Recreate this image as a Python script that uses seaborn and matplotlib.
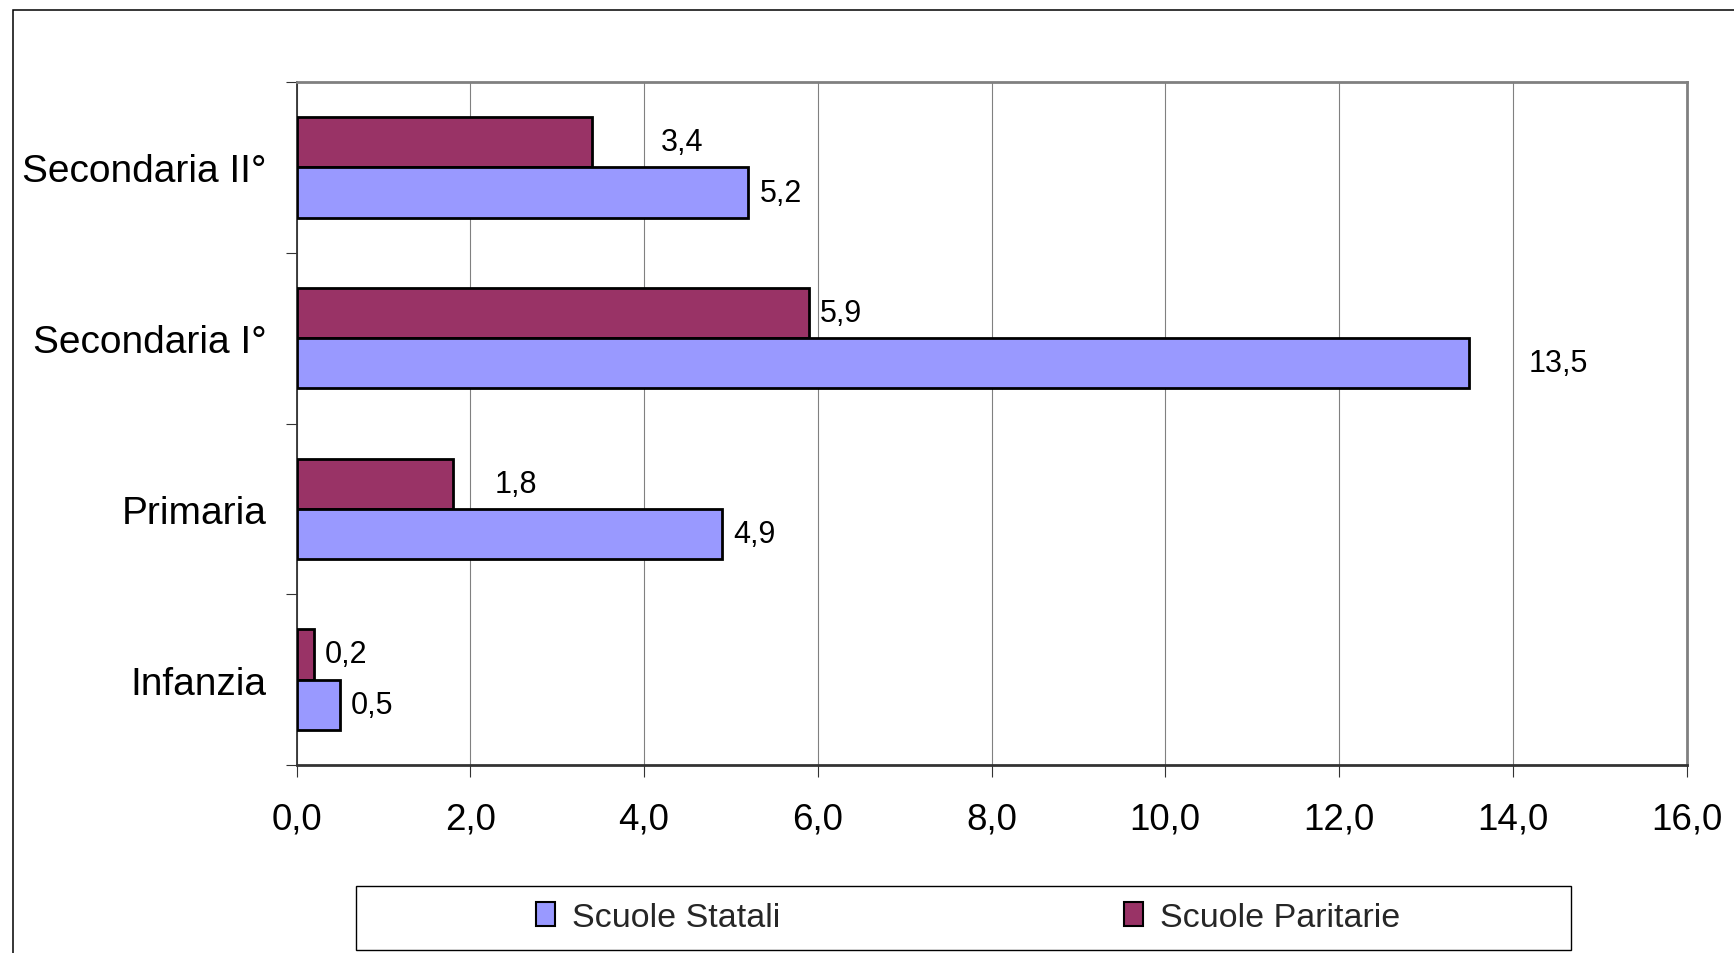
import matplotlib
matplotlib.use("Agg")
import matplotlib.pyplot as plt
import matplotlib.patches as mpatches
from matplotlib.ticker import FuncFormatter, FixedLocator
import seaborn as sns
import pandas as pd
import numpy as np

# ---- data ----
categories = ["Secondaria II°", "Secondaria I°", "Primaria", "Infanzia"]
series = ["Scuole Statali", "Scuole Paritarie"]
statali = [5.2, 13.5, 4.9, 0.5]
paritarie = [3.4, 5.9, 1.8, 0.2]
x_ticks = [0, 2, 4, 6, 8, 10, 12, 14, 16]

# label offsets (points) from bar end, per category
label_offsets = {"Scuole Paritarie": [50, 8, 30, 8],
                 "Scuole Statali": [8, 43, 8, 8]}

colors = {"Scuole Statali": "#9999FF", "Scuole Paritarie": "#993366"}

df = pd.DataFrame({
    "categoria": categories * 2,
    "serie": ["Scuole Statali"] * 4 + ["Scuole Paritarie"] * 4,
    "valore": statali + paritarie,
})

sns.set_style("white")
plt.rcParams["font.family"] = ["Liberation Sans", "DejaVu Sans"]

fig = plt.figure(figsize=(17.34, 9.54), dpi=100)
ax = fig.add_axes([296.5 / 1734, 1 - 766 / 954, (1686.5 - 296.5) / 1734, (766 - 83) / 954])

hue_order = ["Scuole Paritarie", "Scuole Statali"]
sns.barplot(data=df, y="categoria", x="valore", hue="serie", hue_order=hue_order,
            order=categories, palette=colors, orient="h", width=0.59,
            saturation=1, edgecolor="black", linewidth=2, legend=False, ax=ax,
            zorder=3)

ax.set_xlim(0, 16)
ax.set_ylim(len(categories) - 0.5, -0.5)
ax.xaxis.set_major_locator(FixedLocator(x_ticks))
ax.xaxis.set_major_formatter(FuncFormatter(lambda v, p: f"{v:.1f}".replace(".", ",")))
ax.set_xlabel("")
ax.set_ylabel("")

# grid
ax.grid(axis="x", color="#808080", linewidth=0.8, zorder=0)
ax.grid(axis="y", visible=False)
ax.set_axisbelow(True)

# spines
for s in ["top", "right"]:
    ax.spines[s].set_color("#808080")
    ax.spines[s].set_linewidth(2)
ax.spines["left"].set_color("#333333")
ax.spines["left"].set_linewidth(1.3)
ax.spines["bottom"].set_color("#333333")
ax.spines["bottom"].set_linewidth(2)

# ticks
ax.tick_params(axis="x", which="major", direction="out", length=8.6, width=0.8,
               color="#333333", pad=18, labelsize=26.5, labelcolor="black", bottom=True)
ax.tick_params(axis="y", which="major", length=0, pad=21.5, labelsize=28, labelcolor="black")
ax.yaxis.set_minor_locator(FixedLocator(np.arange(-0.5, len(categories), 1.0)))
ax.tick_params(axis="y", which="minor", direction="out", length=7.9, width=0.8,
               color="#333333", left=True)

# value labels
for cont, name in zip(ax.containers, hue_order):
    vals = paritarie if name == "Scuole Paritarie" else statali
    for i, (bar, v) in enumerate(zip(cont, vals)):
        ax.annotate(f"{v:.1f}".replace(".", ","),
                    xy=(bar.get_width(), bar.get_y() + bar.get_height() / 2),
                    xytext=(label_offsets[name][i], 0), textcoords="offset points",
                    ha="left", va="center", fontsize=22, color="black",
                    annotation_clip=False)

# outer frame
fig.patches.append(mpatches.Rectangle((12.5 / 1734, -0.2), 1.5, 1.2 - 10.7 / 954,
                                      transform=fig.transFigure, fill=False,
                                      edgecolor="black", linewidth=1.1))

# legend box
fig.patches.append(mpatches.Rectangle((355.7 / 1734, 1 - 950.7 / 954), (1571 - 355.7) / 1734,
                                      64 / 954, transform=fig.transFigure, fill=False,
                                      edgecolor="black", linewidth=1.0))

handles = [mpatches.Patch(facecolor=colors[s], edgecolor="black", linewidth=1.5) for s in series]
fig.legend(handles, series, loc="center", bbox_to_anchor=(968 / 1734, 1 - 918.7 / 954),
           ncol=2, frameon=False, fontsize=24.5, handlelength=0.55, handleheight=0.7,
           handletextpad=0.5, columnspacing=10.1, borderpad=0)

fig.savefig("out.png", dpi=100, facecolor="white")
